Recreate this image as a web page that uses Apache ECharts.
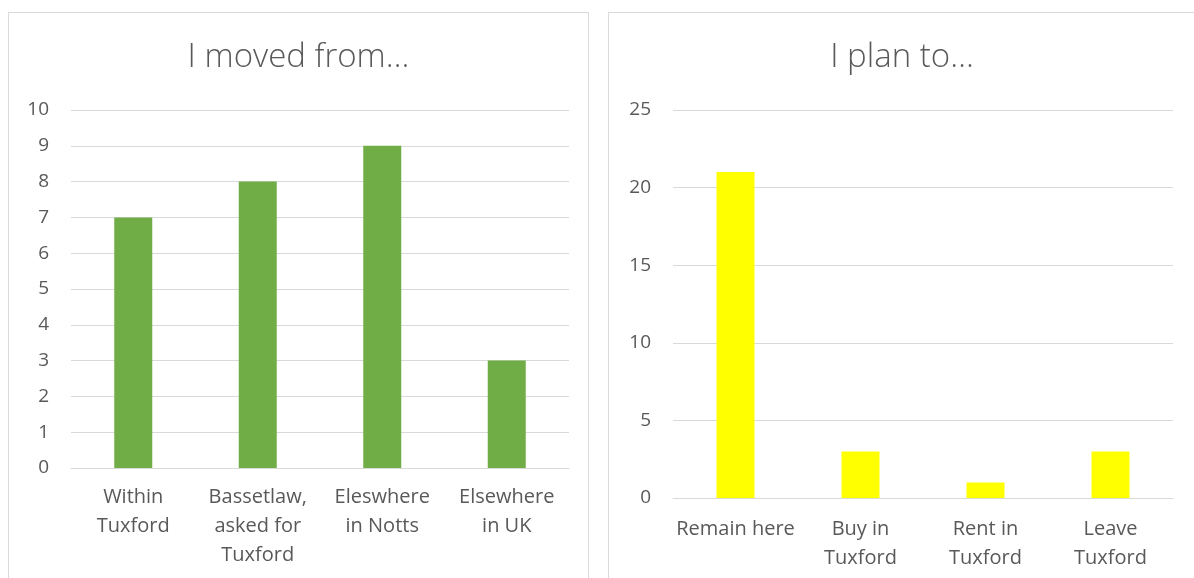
<!DOCTYPE html>
<html>
<head>
<meta charset="utf-8">
<title>Tuxford housing survey</title>
<script src="https://cdn.jsdelivr.net/npm/echarts@6/dist/echarts.min.js"></script>
<style>
  html, body { margin: 0; padding: 0; background: #ffffff; width: 1194px; height: 578px; overflow: hidden; }
  .panel { position: absolute; top: 12px; height: 590px; border: 1px solid #d9d9d9; background: #ffffff; }
  #moved { left: 8px; width: 579px; }
  #plan { left: 608px; width: 586px; }
</style>
</head>
<body>
<div id="moved" class="panel"></div>
<div id="plan" class="panel"></div>
<script>
// Where respondents moved from
const movedCategories = ['Within\nTuxford', 'Bassetlaw,\nasked for\nTuxford', 'Eleswhere\nin Notts', 'Elsewhere\nin UK'];
const movedCounts = [7, 8, 9, 3];
const movedTicks = { min: 0, max: 10, interval: 1 };

// What respondents plan to do next
const planCategories = ['Remain here', 'Buy in\nTuxford', 'Rent in\nTuxford', 'Leave\nTuxford'];
const planCounts = [21, 3, 1, 3];
const planTicks = { min: 0, max: 25, interval: 5 };

const FONT = "'Open Sans', 'Noto Sans', sans-serif";
const TEXT = '#595959';
const GRID = '#d9d9d9';

function barChart(el, title, cats, vals, ticks, color, grid, labelMargin) {
  const chart = echarts.init(el, null, { renderer: 'canvas' });
  chart.setOption({
    animation: false,
    title: {
      text: title,
      left: 'center',
      top: 23,
      textStyle: { fontFamily: FONT, fontSize: 33, fontWeight: 300, color: TEXT }
    },
    grid: grid,
    xAxis: {
      type: 'category',
      data: cats,
      axisLine: { lineStyle: { color: GRID, width: 1 } },
      axisTick: { show: false },
      axisLabel: {
        interval: 0,
        margin: labelMargin,
        fontFamily: FONT,
        fontSize: 20,
        lineHeight: 29,
        color: TEXT,
        align: 'center'
      }
    },
    yAxis: {
      type: 'value',
      min: ticks.min,
      max: ticks.max,
      interval: ticks.interval,
      axisLine: { show: false },
      axisTick: { show: false },
      splitLine: { lineStyle: { color: GRID, width: 1 } },
      axisLabel: { margin: 22, fontFamily: FONT, fontSize: 19, color: TEXT }
    },
    series: [{
      type: 'bar',
      data: vals,
      barWidth: 38,
      itemStyle: { color: color }
    }]
  });
  return chart;
}

barChart(document.getElementById('moved'), 'I moved from…', movedCategories, movedCounts, movedTicks,
  '#70ad47', { left: 62, top: 97, width: 498, height: 358 }, 15);
barChart(document.getElementById('plan'), 'I plan to…', planCategories, planCounts, planTicks,
  '#ffff00', { left: 64, top: 97, width: 500, height: 388 }, 17);
</script>
</body>
</html>
